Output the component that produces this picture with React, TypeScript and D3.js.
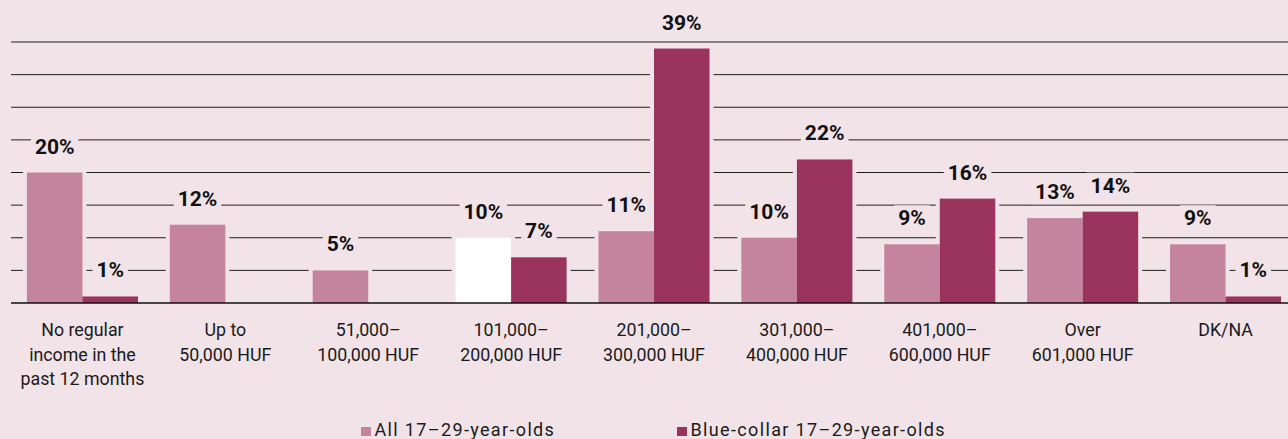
import React, { useEffect, useRef } from "react";
import * as d3 from "d3";

const categories: string[][] = [
  ["No regular", "income in the", "past 12 months"],
  ["Up to", "50,000 HUF"],
  ["51,000–", "100,000 HUF"],
  ["101,000–", "200,000 HUF"],
  ["201,000–", "300,000 HUF"],
  ["301,000–", "400,000 HUF"],
  ["401,000–", "600,000 HUF"],
  ["Over", "601,000 HUF"],
  ["DK/NA"],
];
const allYouth: (number | null)[] = [20, 12, 5, 10, 11, 10, 9, 13, 9];
const blueCollar: (number | null)[] = [1, null, null, 7, 39, 22, 16, 14, 1];
const seriesNames = ["All 17–29-year-olds", "Blue-collar 17–29-year-olds"];
const yTicks = [0, 5, 10, 15, 20, 25, 30, 35, 40];

const W = 1288;
const H = 439;
const BG = "#f1e3e8";
const C_ALL = "#c4849d";
const C_BLUE = "#9a345c";

export default function App() {
  const ref = useRef<SVGSVGElement | null>(null);
  useEffect(() => {
    const svg = d3.select(ref.current);
    svg.selectAll("*").remove();
    const keys = categories.map((c) => c.join(" "));
    const x0 = d3
      .scaleBand<string>()
      .domain(keys)
      .range([11, 1297])
      .paddingInner(0.223)
      .paddingOuter(0.1115);
    const x1 = d3
      .scaleBand<string>()
      .domain(["all", "blue"])
      .range([0, x0.bandwidth()]);
    const y = d3.scaleLinear().domain([0, 40]).range([303, 42]);

    svg.append("rect").attr("width", W).attr("height", H).attr("fill", BG);

    // gridlines
    svg
      .append("g")
      .selectAll("line")
      .data(yTicks.filter((t) => t > 0))
      .join("line")
      .attr("x1", 11)
      .attr("x2", W)
      .attr("y1", (d) => y(d))
      .attr("y2", (d) => y(d))
      .attr("stroke", "#1e1e1e")
      .attr("stroke-width", 1);

    type Bar = { key: string; s: "all" | "blue"; v: number; idx: number };
    const bars: Bar[] = [];
    keys.forEach((k, i) => {
      if (allYouth[i] != null) bars.push({ key: k, s: "all", v: allYouth[i] as number, idx: i });
      if (blueCollar[i] != null) bars.push({ key: k, s: "blue", v: blueCollar[i] as number, idx: i });
    });
    const bx = (b: Bar) => (x0(b.key) as number) + (x1(b.s) as number);
    const bw = x1.bandwidth();

    // bar background halos
    svg
      .append("g")
      .selectAll("rect")
      .data(bars)
      .join("rect")
      .attr("x", (b) => bx(b) - 4)
      .attr("y", (b) => y(b.v) - 4)
      .attr("width", bw + 8)
      .attr("height", (b) => y(0) - y(b.v) + 4)
      .attr("fill", BG);

    svg
      .append("g")
      .selectAll("rect")
      .data(bars)
      .join("rect")
      .attr("x", (b) => bx(b))
      .attr("y", (b) => y(b.v))
      .attr("width", bw)
      .attr("height", (b) => y(0) - y(b.v))
      .attr("fill", (b) => (b.s === "blue" ? C_BLUE : b.idx === 3 ? "#ffffff" : C_ALL));

    // value labels with background boxes
    const lg = svg.append("g");
    bars.forEach((b) => {
      const g = lg.append("g");
      const t = g
        .append("text")
        .attr("x", bx(b) + bw / 2)
        .attr("y", y(b.v) - 19)
        .attr("text-anchor", "middle")
        .attr("font-family", "Roboto, sans-serif")
        .attr("font-weight", 700)
        .attr("font-size", 21)
        .attr("fill", "#111")
        .text(`${b.v}%`);
      const bb = (t.node() as SVGTextElement).getBBox();
      g.insert("rect", "text")
        .attr("x", bb.x - 4)
        .attr("y", bb.y - 1)
        .attr("width", bb.width + 8)
        .attr("height", bb.height + 1)
        .attr("fill", BG);
    });

    // baseline
    svg
      .append("line")
      .attr("x1", 11)
      .attr("x2", W)
      .attr("y1", y(0))
      .attr("y2", y(0))
      .attr("stroke", "#111")
      .attr("stroke-width", 1.6);

    // category labels
    const cg = svg.append("g");
    categories.forEach((lines, i) => {
      const cx = (x0(keys[i]) as number) + x0.bandwidth() / 2;
      const t = cg
        .append("text")
        .attr("text-anchor", "middle")
        .attr("font-family", "Roboto, sans-serif")
        .attr("font-size", 17.8)
        .attr("fill", "#1a1a1a");
      lines.forEach((l, j) => {
        t.append("tspan").attr("x", cx).attr("y", 336 + j * 24.5).text(l);
      });
    });

    // legend
    const legendX = [361, 677];
    const colors = [C_ALL, C_BLUE];
    seriesNames.forEach((n, i) => {
      svg
        .append("rect")
        .attr("x", legendX[i])
        .attr("y", 427)
        .attr("width", 10)
        .attr("height", 9)
        .attr("fill", colors[i]);
      svg
        .append("text")
        .attr("x", legendX[i] + 13.5)
        .attr("y", 435.7)
        .attr("font-family", "Roboto, sans-serif")
        .attr("font-size", 18)
        .attr("letter-spacing", 1.35)
        .attr("fill", "#1a1a1a")
        .text(n);
    });
  }, []);
  return (
    <svg
      ref={ref}
      width={W}
      height={H}
      style={{ position: "absolute", left: 0, top: 0, display: "block" }}
    />
  );
}
